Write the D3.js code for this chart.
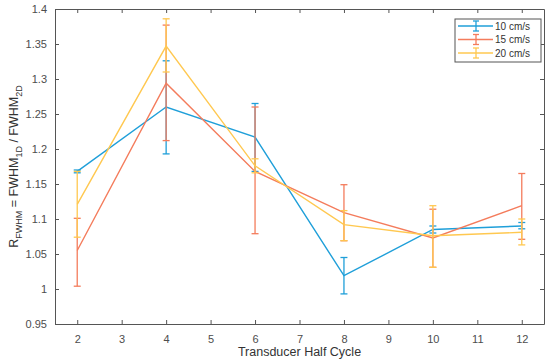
<!DOCTYPE html>
<html><head><meta charset="utf-8">
<script src="https://cdn.jsdelivr.net/npm/d3@7"></script>
<style>body{margin:0;background:#fff}svg{display:block}</style>
</head><body>
<script>
const xValues = [2, 4, 6, 8, 10, 12];
const seriesNames = ["10 cm/s", "15 cm/s", "20 cm/s"];
const mean10 = [1.168, 1.260, 1.217, 1.019, 1.085, 1.090];
const up10   = [1.170, 1.326, 1.265, 1.045, 1.090, 1.095];
const lo10   = [1.166, 1.193, 1.168, 0.993, 1.080, 1.086];
const mean15 = [1.055, 1.294, 1.168, 1.109, 1.073, 1.119];
const up15   = [1.101, 1.377, 1.260, 1.149, 1.114, 1.165];
const lo15   = [1.004, 1.212, 1.079, 1.069, 1.031, 1.071];
const mean20 = [1.121, 1.347, 1.176, 1.092, 1.076, 1.081];
const up20   = [1.168, 1.386, 1.186, 1.112, 1.119, 1.100];
const lo20   = [1.074, 1.310, 1.166, 1.069, 1.031, 1.063];
const xTicks = [2,3,4,5,6,7,8,9,10,11,12];
const yTicks = [0.95,1,1.05,1.1,1.15,1.2,1.25,1.3,1.35,1.4];
const colors = ["#1f9fd9", "#f47c5c", "#ffc850"];

const W = 550, H = 361;
const m = {l:55, t:9, r:6, b:37};
const svg = d3.select("body").append("svg").attr("width", W).attr("height", H)
  .style("font-family", "Arial, 'Liberation Sans', sans-serif");
const x = d3.scaleLinear().domain([1.5, 12.5]).range([m.l, W - m.r]);
const y = d3.scaleLinear().domain([0.95, 1.4]).range([H - m.b, m.t]);
const tickTextCol = "#4d4d4d";

const series = [
  {name: seriesNames[0], mean: mean10, up: up10, lo: lo10, color: colors[0]},
  {name: seriesNames[1], mean: mean15, up: up15, lo: lo15, color: colors[1]},
  {name: seriesNames[2], mean: mean20, up: up20, lo: lo20, color: colors[2]}
];

// axes
const fmt = d => d3.format("")(+d.toFixed(2));
const gx = svg.append("g").attr("transform", `translate(0,${H - m.b})`)
  .call(d3.axisBottom(x).tickValues(xTicks).tickSizeInner(-4).tickSizeOuter(0).tickPadding(11).tickFormat(d3.format("d")));
const gxt = svg.append("g").attr("transform", `translate(0,${m.t})`)
  .call(d3.axisTop(x).tickValues(xTicks).tickSizeInner(-4).tickSizeOuter(0).tickFormat(""));
const gy = svg.append("g").attr("transform", `translate(${m.l},0)`)
  .call(d3.axisLeft(y).tickValues(yTicks).tickSizeInner(-4).tickSizeOuter(0).tickPadding(8).tickFormat(fmt));
const gyr = svg.append("g").attr("transform", `translate(${W - m.r},0)`)
  .call(d3.axisRight(y).tickValues(yTicks).tickSizeInner(-4).tickSizeOuter(0).tickFormat(""));
[gx, gxt, gy, gyr].forEach(g => {
  g.selectAll("path.domain").attr("stroke", "#555").attr("stroke-width", 1);
  g.selectAll(".tick line").attr("stroke", "#555");
  g.selectAll(".tick text").attr("fill", tickTextCol).style("font-size", "11px");
});

// lines and error bars
const line = d3.line().x((d, i) => x(xValues[i])).y(d => y(d));
const cap = 3.5;
series.forEach(s => {
  const g = svg.append("g");
  g.append("path").datum(s.mean).attr("d", line).attr("fill", "none")
    .attr("stroke", s.color).attr("stroke-width", 1.4);
  xValues.forEach((xv, i) => {
    const cx = x(xv);
    g.append("line").attr("x1", cx).attr("x2", cx).attr("y1", y(s.up[i])).attr("y2", y(s.lo[i]))
      .attr("stroke", s.color).attr("stroke-width", 1.3);
    [s.up[i], s.lo[i]].forEach(v => {
      g.append("line").attr("x1", cx - cap).attr("x2", cx + cap).attr("y1", y(v)).attr("y2", y(v))
        .attr("stroke", s.color).attr("stroke-width", 1.3);
    });
  });
});

// axis labels
svg.append("text").attr("x", (m.l + W - m.r) / 2).attr("y", 356).attr("text-anchor", "middle")
  .attr("fill", "#333").style("font-size", "12.5px").text("Transducer Half Cycle");
const yl = svg.append("text").attr("transform", `translate(18,${(m.t + H - m.b) / 2}) rotate(-90)`)
  .attr("text-anchor", "middle").attr("fill", "#333").style("font-size", "12.5px");
yl.append("tspan").text("R");
yl.append("tspan").attr("dy", 4).style("font-size", "9px").text("FWHM");
yl.append("tspan").attr("dy", -4).text(" = FWHM");
yl.append("tspan").attr("dy", 4).style("font-size", "9px").text("1D");
yl.append("tspan").attr("dy", -4).text(" / FWHM");
yl.append("tspan").attr("dy", 4).style("font-size", "9px").text("2D");

// legend
const lg = svg.append("g");
lg.append("rect").attr("x", 455).attr("y", 19).attr("width", 86).attr("height", 43)
  .attr("fill", "#fff").attr("stroke", "#555").attr("stroke-width", 1);
series.forEach((s, i) => {
  const yy = 26 + i * 13.5;
  lg.append("line").attr("x1", 458).attr("x2", 493).attr("y1", yy).attr("y2", yy)
    .attr("stroke", s.color).attr("stroke-width", 1.4);
  lg.append("line").attr("x1", 476).attr("x2", 476).attr("y1", yy - 5).attr("y2", yy + 5)
    .attr("stroke", s.color).attr("stroke-width", 1.3);
  [yy - 5, yy + 5].forEach(v => lg.append("line").attr("x1", 473).attr("x2", 479)
    .attr("y1", v).attr("y2", v).attr("stroke", s.color).attr("stroke-width", 1.3));
  lg.append("text").attr("x", 495).attr("y", yy + 3.5).attr("fill", "#333")
    .style("font-size", "10px").text(s.name);
});
</script>
</body></html>
